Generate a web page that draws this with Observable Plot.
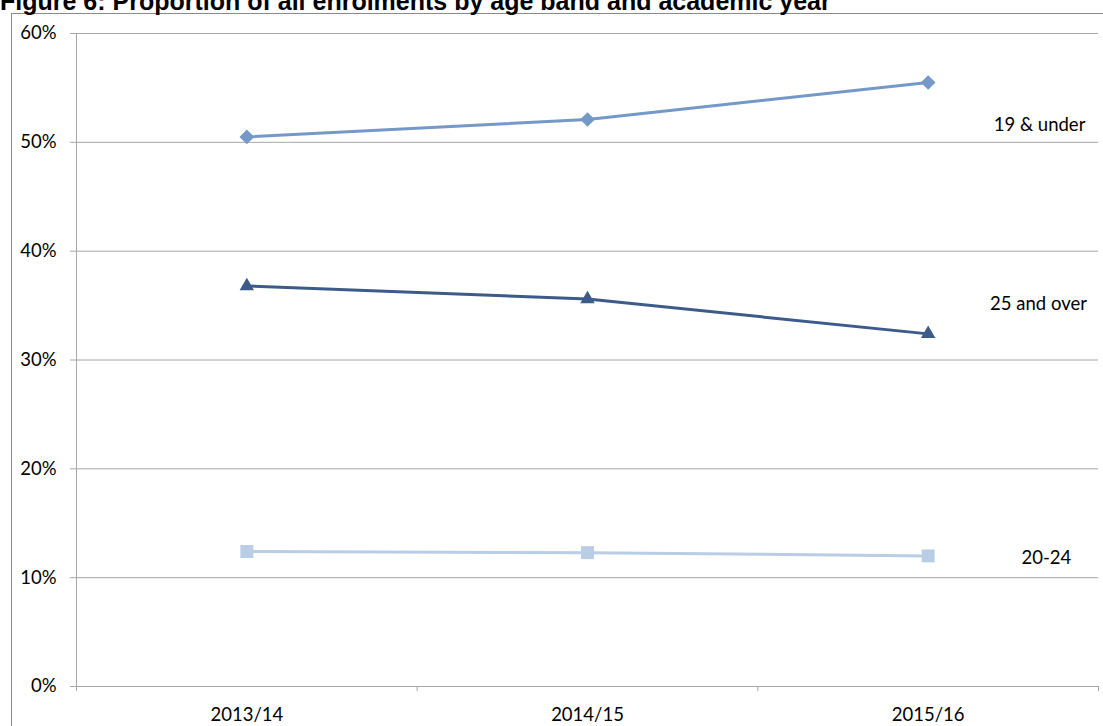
<!DOCTYPE html>
<html>
<head>
<meta charset="utf-8">
<script src="https://cdn.jsdelivr.net/npm/d3@7"></script>
<script src="https://cdn.jsdelivr.net/npm/@observablehq/plot@0.6"></script>
<style>
  html, body { margin: 0; padding: 0; width: 1103px; height: 726px; overflow: hidden; background: #fff; }
  #title { position: absolute; left: 0; top: -11px; font: bold 25px "Liberation Sans", Arial, sans-serif; line-height: 25px; white-space: nowrap; color: #000; }
  #frame { position: absolute; left: 11px; top: 13px; width: 1200px; height: 800px; border: 1px solid #8a8a8a; }
  #chart { position: absolute; left: 0; top: 0; }
</style>
</head>
<body>
<div id="frame"></div>
<div id="chart"></div>
<div id="title">Figure 6: Proportion of all enrolments by age band and academic year</div>
<script>
// ---- data ----
const years = ["2013/14", "2014/15", "2015/16"];
const seriesNames = ["19 & under", "20-24", "25 and over"];
const under19 = [0.505, 0.521, 0.555];
const age20to24 = [0.124, 0.123, 0.120];
const over25 = [0.368, 0.356, 0.324];
const yTicks = [0, 0.1, 0.2, 0.3, 0.4, 0.5, 0.6];
// label anchor positions (in data units: x = category index units, y = share)
const labelX = [2.827, 2.847, 2.824];
const labelY = [0.516, 0.118, 0.351];

const seriesValues = [under19, age20to24, over25];
const colors = ["#7498C8", "#B9CDE5", "#3C5B89"];
const symbols = ["diamond2", "square", "triangle2"];
const radii = [6.6, 7.3, 6.9];

const rows = seriesNames.flatMap((s, k) =>
  years.map((yr, i) => ({series: s, year: yr, xi: i + 0.5, value: seriesValues[k][i]}))
);
const labels = seriesNames.map((s, k) => ({series: s, x: labelX[k], y: labelY[k]}));

const font = "Lato, 'Open Sans', sans-serif";
const grey = "#a6a6a6";

const marks = [
  Plot.ruleY(yTicks, {stroke: grey, strokeWidth: 1, insetLeft: -6}),
  Plot.ruleX([0], {stroke: grey, strokeWidth: 1}),
  Plot.ruleX([0, 1, 2, 3], {y1: 0, y2: 0, insetBottom: -5, stroke: grey, strokeWidth: 1}),
  Plot.axisY({ticks: yTicks, tickSize: 0, tickPadding: 20, tickFormat: d3.format(".0%"), label: null, fontSize: 18.5, fontFamily: font, fill: "#000"}),
  Plot.axisX({ticks: [0.5, 1.5, 2.5], tickSize: 0, tickPadding: 21, tickFormat: d => years[Math.round(d - 0.5)], label: null, fontSize: 18.5, fontFamily: font, fill: "#000"}),
];
seriesNames.forEach((s, k) => {
  const d = rows.filter(r => r.series === s);
  marks.push(Plot.line(d, {x: "xi", y: "value", stroke: colors[k], strokeWidth: 3}));
  marks.push(Plot.dot(d, {x: "xi", y: "value", fill: colors[k], symbol: symbols[k], r: radii[k], stroke: "none"}));
});
marks.push(Plot.text(labels, {x: "x", y: "y", text: "series", fontSize: 18.5, fontFamily: font, fill: "#000", textAnchor: "middle", lineAnchor: "middle"}));

const chart = Plot.plot({
  width: 1103,
  height: 726,
  marginLeft: 76,
  marginRight: 5,
  marginTop: 33,
  marginBottom: 40,
  x: {type: "linear", domain: [0, 3], axis: null},
  y: {domain: [0, 0.6], axis: null},
  style: {background: "transparent", fontFamily: font},
  marks
});
document.getElementById("chart").appendChild(chart);
</script>
</body>
</html>
